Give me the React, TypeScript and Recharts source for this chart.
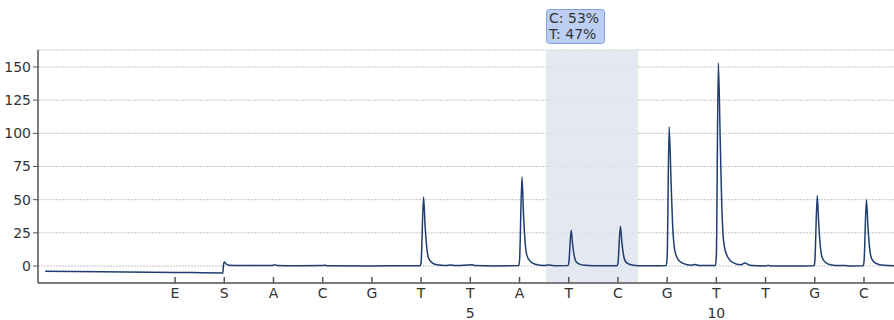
import { CartesianGrid, Line, LineChart, ReferenceArea, XAxis, YAxis } from "recharts";

// dispensation order, tick at index i
const dispensation = ["E", "S", "A", "C", "G", "T", "T", "A", "T", "C", "G", "T", "T", "G", "C"];
// position numbers shown under some of the dispensations
const positionLabels: Record<number, string> = { 6: "5", 11: "10" };
const yTicks = [0, 25, 50, 75, 100, 125, 150];

// trace: [dispensation position, signal]
const trace: [number, number][] = [
  [-2.64, -4.0], [-1.5, -4.3], [0, -4.8], [0.97, -5.2], [0.985, 1], [1.0, 3], [1.04, 1.5], [1.1, 0.6], [1.3, 0.3],
  [1.97, 0.3], [2.02, 1.0], [2.08, 0.4], [2.5, 0.2], [3.0, 0.3], [3.05, 0.6], [3.1, 0.2], [4.0, 0.1], [4.5, 0.2],
  // T
  [4.98, 0.2], [5.0, 3], [5.05, 52], [5.08, 31], [5.11, 16], [5.15, 6], [5.22, 2.6], [5.32, 1], [5.5, 0.4],
  [5.6, 0.8], [5.7, 0.3], [6.04, 0.9], [6.1, 0.3], [6.5, 0.1],
  // A
  [6.98, 0.3], [7.0, 4], [7.05, 67], [7.08, 40], [7.11, 20], [7.15, 8], [7.22, 3.4], [7.32, 1.3], [7.5, 0.4],
  [7.58, 0.8], [7.7, 0.2],
  // T
  [7.98, 0.3], [8.0, 2], [8.05, 27], [8.08, 16], [8.11, 8], [8.15, 3.2], [8.22, 1.4], [8.32, 0.5], [8.5, 0.2],
  // C
  [8.98, 0.2], [9.0, 2], [9.05, 30], [9.08, 18], [9.11, 9], [9.15, 3.6], [9.22, 1.5], [9.32, 0.6], [9.5, 0.2],
  [9.8, 0.2],
  // G
  [9.98, 0.3], [10.0, 6], [10.04, 105], [10.08, 63], [10.11, 32], [10.15, 13], [10.22, 5], [10.32, 2], [10.5, 0.6],
  [10.57, 1.2], [10.65, 0.4],
  // T
  [10.98, 0.3], [11.0, 8], [11.04, 153], [11.08, 92], [11.11, 46], [11.15, 18], [11.22, 7.5], [11.32, 3], [11.5, 1],
  [11.58, 2.2], [11.68, 0.6], [12.0, 0.1], [12.05, 0.5], [12.1, 0.1], [12.5, 0.0],
  // G
  [12.98, 0.2], [13.0, 3], [13.05, 53], [13.08, 32], [13.11, 16], [13.15, 6.4], [13.22, 2.7], [13.32, 1], [13.5, 0.3],
  [13.6, 0.4], [13.75, 0.1],
  // C
  [13.98, 0.2], [14.0, 3], [14.05, 50], [14.08, 30], [14.11, 15], [14.15, 6], [14.22, 2.5], [14.32, 1], [14.5, 0.3],
  [14.61, 0.2],
];

const variableRange = { from: 7.54, to: 9.41, lines: ["C: 53%", "T: 47%"] };

const data = trace.map(([x, y]) => ({ x, y }));
const font = "'DejaVu Sans', Verdana, sans-serif";

function DispTick(props: any) {
  const { x, y, payload } = props;
  const i = payload.value as number;
  return (
    <g>
      <line x1={x} x2={x} y1={y - 6} y2={y} stroke="#555" strokeWidth={1.5} />
      <text x={x} y={y + 15} textAnchor="middle" fontSize={14} fill="#333" fontFamily={font}>
        {dispensation[i]}
      </text>
      {positionLabels[i] && (
        <text x={x} y={y + 35} textAnchor="middle" fontSize={14} fill="#333" fontFamily={font}>
          {positionLabels[i]}
        </text>
      )}
    </g>
  );
}

function RangeLabel(props: any) {
  const vb = props.viewBox;
  if (!vb) return null;
  const x = vb.x;
  const top = vb.y - 41;
  return (
    <g>
      <rect x={x + 0.5} y={top + 0.5} width={58} height={34} rx={3} fill="#bccff3" stroke="#7f9fd8" />
      {variableRange.lines.map((t, k) => (
        <text key={k} x={x + 3} y={top + 14 + k * 16} fontSize={14} fill="#333" fontFamily={font}>
          {t}
        </text>
      ))}
    </g>
  );
}

export default function App() {
  return (
    <div style={{ position: "absolute", left: 0, top: 0 }}>
      <LineChart width={894} height={320} data={data} margin={{ top: 50, right: 0, bottom: 0, left: 0 }}>
        <CartesianGrid vertical={false} stroke="#c4c4c4" strokeDasharray="2 1" />
        <ReferenceArea
          x1={variableRange.from}
          x2={variableRange.to}
          y1={-12.8}
          y2={162.8}
          fill="#dfe5ee"
          fillOpacity={0.85}
          stroke="none"
          label={<RangeLabel />}
        />
        <XAxis
          type="number"
          dataKey="x"
          domain={[-2.785, 14.61]}
          ticks={dispensation.map((_, i) => i)}
          interval={0}
          allowDataOverflow
          tickLine={false}
          tickSize={0}
          tickMargin={0}
          axisLine={{ stroke: "#555", strokeWidth: 1.5 }}
          tick={<DispTick />}
          height={37}
        />
        <YAxis
          type="number"
          domain={[-12.8, 162.8]}
          ticks={yTicks}
          allowDataOverflow
          width={38}
          tickSize={5}
          tickMargin={2}
          tickLine={{ stroke: "#555" }}
          axisLine={{ stroke: "#555", strokeWidth: 1.5 }}
          tick={{ fontSize: 14, fill: "#333", fontFamily: font }}
        />
        <Line
          type="monotone"
          dataKey="y"
          stroke="#1f3d70"
          strokeWidth={1.5}
          dot={false}
          isAnimationActive={false}
        />
      </LineChart>
    </div>
  );
}
